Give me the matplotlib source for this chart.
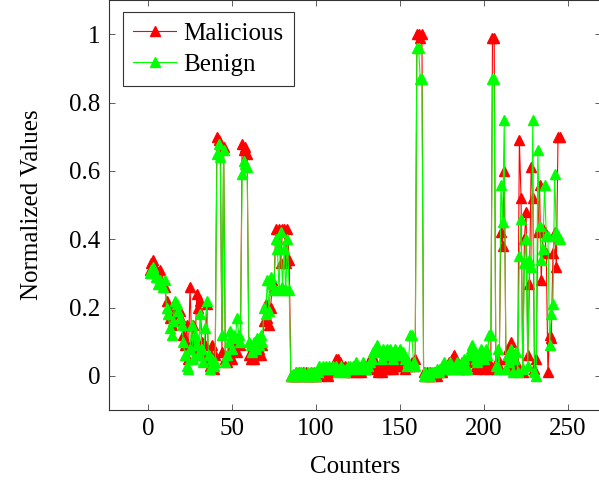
import matplotlib
matplotlib.use("Agg")
import matplotlib.pyplot as plt
import numpy as np

# values, counters 1..245
malicious = [
    0.31, 0.33, 0.34, 0.32, 0.30, 0.29, 0.31, 0.28, 0.27, 0.26,
    0.22, 0.20, 0.17, 0.15, 0.19, 0.21, 0.20, 0.18, 0.19, 0.16,
    0.12, 0.09, 0.15, 0.05, 0.26, 0.10, 0.15, 0.08, 0.24, 0.20,
    0.22, 0.10, 0.06, 0.09, 0.21, 0.05, 0.03, 0.09, 0.02, 0.06,
    0.70, 0.69, 0.68, 0.07, 0.67, 0.05, 0.04, 0.06, 0.08, 0.05,
    0.08, 0.09, 0.07, 0.10, 0.09, 0.68, 0.66, 0.67, 0.65, 0.06,
    0.05, 0.06, 0.05, 0.07, 0.06, 0.08, 0.06, 0.09, 0.16, 0.21,
    0.17, 0.15, 0.20, 0.28, 0.26, 0.43, 0.40, 0.43, 0.33, 0.43,
    0.43, 0.33, 0.43, 0.34, 0.00, 0.00, 0.00, 0.01, 0.00, 0.01,
    0.00, 0.01, 0.00, 0.01, 0.00, 0.00, 0.01, 0.00, 0.01, 0.00,
    0.01, 0.00, 0.02, 0.01, 0.02, 0.01, 0.00, 0.01, 0.02, 0.03,
    0.04, 0.05, 0.05, 0.04, 0.03, 0.02, 0.03, 0.02, 0.01, 0.02,
    0.01, 0.02, 0.03, 0.02, 0.01, 0.02, 0.01, 0.02, 0.03, 0.02,
    0.03, 0.05, 0.06, 0.05, 0.02, 0.03, 0.01, 0.02, 0.01, 0.03,
    0.02, 0.03, 0.04, 0.02, 0.03, 0.02, 0.04, 0.03, 0.05, 0.03,
    0.04, 0.03, 0.02, 0.03, 0.04, 0.03, 0.04, 0.03, 0.05, 1.00,
    1.00, 0.99, 1.00, 0.01, 0.00, 0.01, 0.00, 0.01, 0.00, 0.01,
    0.01, 0.00, 0.01, 0.02, 0.01, 0.02, 0.03, 0.02, 0.04, 0.03,
    0.05, 0.06, 0.04, 0.03, 0.02, 0.03, 0.04, 0.02, 0.03, 0.02,
    0.04, 0.05, 0.07, 0.05, 0.03, 0.02, 0.04, 0.05, 0.03, 0.02,
    0.03, 0.04, 0.02, 0.03, 0.99, 0.99, 0.02, 0.05, 0.03, 0.42,
    0.38, 0.60, 0.05, 0.08, 0.02, 0.10, 0.06, 0.03, 0.04, 0.02,
    0.69, 0.52, 0.01, 0.40, 0.48, 0.06, 0.27, 0.61, 0.52, 0.02,
    0.05, 0.42, 0.56, 0.28, 0.43, 0.42, 0.36, 0.01, 0.12, 0.11,
    0.36, 0.42, 0.32, 0.70, 0.70,
]

benign = [
    0.30, 0.31, 0.32, 0.30, 0.29, 0.27, 0.28, 0.27, 0.26, 0.28,
    0.20, 0.18, 0.14, 0.12, 0.16, 0.22, 0.21, 0.19, 0.17, 0.15,
    0.10, 0.06, 0.03, 0.02, 0.08, 0.15, 0.05, 0.12, 0.09, 0.06,
    0.18, 0.08, 0.04, 0.14, 0.22, 0.06, 0.02, 0.05, 0.03, 0.04,
    0.65, 0.68, 0.64, 0.12, 0.66, 0.04, 0.06, 0.10, 0.13, 0.08,
    0.12, 0.11, 0.17, 0.12, 0.10, 0.59, 0.63, 0.62, 0.61, 0.10,
    0.09, 0.07, 0.10, 0.08, 0.11, 0.09, 0.12, 0.10, 0.20, 0.18,
    0.28, 0.19, 0.29, 0.27, 0.25, 0.40, 0.37, 0.25, 0.42, 0.26,
    0.37, 0.25, 0.40, 0.25, 0.00, 0.005, 0.00, 0.01, 0.00, 0.01,
    0.01, 0.00, 0.01, 0.00, 0.01, 0.00, 0.01, 0.00, 0.01, 0.00,
    0.01, 0.03, 0.02, 0.03, 0.02, 0.03, 0.02, 0.03, 0.02, 0.03,
    0.02, 0.03, 0.01, 0.02, 0.03, 0.02, 0.01, 0.02, 0.03, 0.03,
    0.02, 0.03, 0.02, 0.04, 0.03, 0.02, 0.03, 0.04, 0.03, 0.02,
    0.03, 0.04, 0.05, 0.07, 0.08, 0.09, 0.08, 0.07, 0.05, 0.08,
    0.07, 0.08, 0.06, 0.08, 0.07, 0.05, 0.08, 0.06, 0.07, 0.08,
    0.06, 0.07, 0.05, 0.03, 0.04, 0.12, 0.12, 0.04, 0.03, 0.96,
    0.96, 0.87, 0.87, 0.00, 0.01, 0.00, 0.01, 0.00, 0.01, 0.01,
    0.01, 0.02, 0.01, 0.02, 0.03, 0.04, 0.02, 0.03, 0.02, 0.04,
    0.03, 0.02, 0.03, 0.04, 0.02, 0.03, 0.04, 0.05, 0.03, 0.02,
    0.06, 0.08, 0.09, 0.07, 0.05, 0.04, 0.06, 0.08, 0.07, 0.05,
    0.08, 0.06, 0.12, 0.12, 0.87, 0.87, 0.03, 0.08, 0.02, 0.56,
    0.45, 0.75, 0.02, 0.06, 0.04, 0.08, 0.01, 0.05, 0.07, 0.01,
    0.35, 0.46, 0.02, 0.33, 0.40, 0.03, 0.34, 0.32, 0.75, 0.01,
    0.00, 0.66, 0.44, 0.34, 0.37, 0.56, 0.41, 0.41, 0.09, 0.18,
    0.21, 0.59, 0.42, 0.41, 0.40,
]

counters = np.arange(1, len(malicious) + 1)

plt.rcParams['font.family'] = ['Liberation Serif', 'DejaVu Serif']
plt.rcParams['font.size'] = 18

fig = plt.figure(figsize=(5.99, 4.82), dpi=100)
ax = fig.add_axes([108.7 / 599, 72 / 482, 492 / 599, 410 / 482])

ax.plot(counters, malicious, color='#ff0000', lw=0.8, marker='^', ms=7,
        mec='#ff0000', mfc='#ff0000', label='Malicious')
ax.plot(counters, benign, color='#00ff00', lw=0.8, marker='^', ms=7,
        mec='#00ff00', mfc='#00ff00', label='Benign')

ax.set_xlim(-23.4, 269.4)
ax.set_ylim(-0.1, 1.1)
ax.set_xticks([0, 50, 100, 150, 200, 250])
ax.set_yticks([0, 0.2, 0.4, 0.6, 0.8, 1.0])
ax.set_yticklabels(['0', '0.2', '0.4', '0.6', '0.8', '1'])
ax.tick_params(direction='in', length=4, width=0.6, top=True, right=True,
               color='#444444', pad=6)
for s in ax.spines.values():
    s.set_linewidth(0.8)
    s.set_color('#333333')

ax.set_xlabel('Counters', labelpad=11)
ax.set_ylabel('Normalized Values', labelpad=19)

leg = ax.legend(loc='upper left', bbox_to_anchor=(0.03, 0.97), borderaxespad=0,
                fancybox=False, edgecolor='#333333', framealpha=1,
                handlelength=1.7, numpoints=1, borderpad=0.4, labelspacing=0.35,
                handletextpad=0.3)
leg.get_frame().set_linewidth(0.8)

fig.savefig('out.png', dpi=100)
